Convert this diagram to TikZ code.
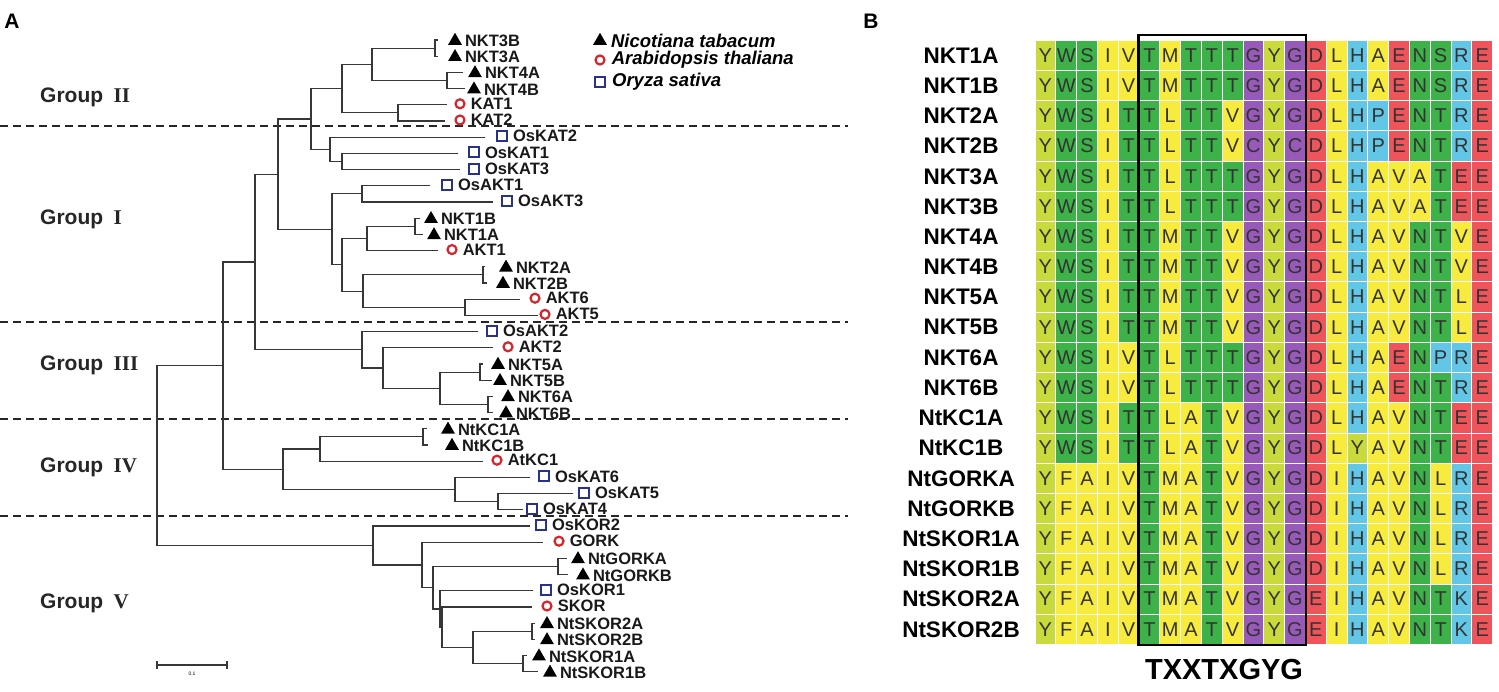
\documentclass[tikz,border=0pt]{standalone}
\usepackage{fontspec}
\setmainfont{Liberation Sans}
\newfontfamily\romfont{Liberation Serif}
\usetikzlibrary{positioning,calc,shapes.geometric}

\definecolor{cl}{RGB}{200,218,60}
\definecolor{cg}{RGB}{60,178,72}
\definecolor{cy}{RGB}{247,236,62}
\definecolor{cp}{RGB}{152,90,184}
\definecolor{cr}{RGB}{238,84,90}
\definecolor{cb}{RGB}{98,198,230}
\definecolor{treegray}{RGB}{55,55,55}
\definecolor{mkred}{RGB}{214,38,44}
\definecolor{mkblue}{RGB}{40,50,140}

\tikzset{
  branch/.style={treegray, line width=1.15pt},
  grpline/.style={black!85, line width=1.2pt, dash pattern=on 8pt off 5pt},
  mtri/.style={regular polygon, regular polygon sides=3, fill=black, inner sep=0pt, minimum size=16pt, yshift=-1.8pt},
  mcirc/.style={circle, draw=mkred, line width=2.2pt, inner sep=0pt, minimum size=9pt},
  msq/.style={rectangle, draw=mkblue, line width=1.9pt, inner sep=0pt, minimum size=10pt},
  leaflab/.style={font=\fontsize{16.5}{18}\selectfont\bfseries, text=black!90, inner sep=0pt},
  legtxt/.style={font=\fontsize{18.5}{20}\selectfont\bfseries\itshape, inner sep=0pt},
  grp/.style={font=\fontsize{21}{24}\selectfont\bfseries, text=black!85, inner sep=0pt, anchor=west},
  panel/.style={font=\fontsize{21}{22}\selectfont\bfseries, inner sep=0pt},
  scalelab/.style={font=\fontsize{5}{5}\selectfont, inner sep=0pt},
  seqlab/.style={font=\fontsize{22.5}{24}\selectfont\bfseries, inner sep=0pt},
  cell/.style={rectangle, draw=white, line width=1pt, minimum width=20.8pt, minimum height=30.2pt, inner sep=0pt, font=\fontsize{20}{20}\selectfont, text=black!80},
  motifbox/.style={line width=2.2pt, black},
  motif/.style={font=\fontsize{29}{30}\selectfont\bfseries, inner sep=0pt},
  res Y/.style={fill=cl},
  res W/.style={fill=cg}, res S/.style={fill=cg}, res T/.style={fill=cg}, res N/.style={fill=cg},
  res I/.style={fill=cy}, res V/.style={fill=cy}, res M/.style={fill=cy},
  res L/.style={fill=cy}, res A/.style={fill=cy}, res F/.style={fill=cy},
  res G/.style={fill=cp}, res C/.style={fill=cp},
  res D/.style={fill=cr}, res E/.style={fill=cr},
  res H/.style={fill=cb}, res P/.style={fill=cb}, res R/.style={fill=cb}, res K/.style={fill=cb}
}

% joins two children at the given x, half way between them
\newcommand{\clade}[4]{%
  \path ($(#3)!0.5!(#4)$) coordinate (mid);
  \coordinate (#1) at (#2,0 |- mid);
  \draw[branch] (#3) -| (#1) |- (#4);}

% one row of the alignment
\newcommand{\alnrow}[3]{%
  \node[seqlab] (r#1) at (961,{55.5+30.2*(#1-1)}) {#2};
  \foreach \aa [count=\k] in {#3} {
    \node[cell, res \aa] (c#1-\k) at ({1035+20.8*(\k-0.5)},{55.5+30.2*(#1-1)}) {\aa};
  }}

\begin{document}
\begin{tikzpicture}[x=1pt,y=-1pt]
\useasboundingbox (0,0) rectangle (1499,692);

\node[panel] (pA) at (12,21) {A};
\node[panel] (pB) at (871,21) {B};

% group borders
\foreach \yy in {126,322,419,516}
  \draw[grpline] (0,\yy) -- (848,\yy);

\node[grp] (g2) at (40,97) {Group\hspace{0.5em}{\romfont II}};
\node[grp] (g1) at (40,219) {Group\hspace{0.5em}{\romfont I}};
\node[grp] (g3) at (40,365) {Group\hspace{0.5em}{\romfont III}};
\node[grp] (g4) at (40,467) {Group\hspace{0.5em}{\romfont IV}};
\node[grp] (g5) at (40,603) {Group\hspace{0.5em}{\romfont V}};

% leaves: index / name / tip x / marker x / marker
\foreach \i/\lab/\tx/\mx/\mk in {
  0/NKT3B/438/455/mtri, 1/NKT3A/438/455/mtri, 2/NKT4A/463/475/mtri, 3/NKT4B/465/474/mtri,
  4/KAT1/447/460/mcirc, 5/KAT2/445/460/mcirc, 6/OsKAT2/485/502/msq, 7/OsKAT1/458/474/msq,
  8/OsKAT3/460/474/msq, 9/OsAKT1/430/447/msq, 10/OsAKT3/493/507/msq, 11/NKT1B/420/431/mtri,
  12/NKT1A/423/434/mtri, 13/AKT1/438/452/mcirc, 14/NKT2A/485/506/mtri, 15/NKT2B/487/503/mtri,
  16/AKT6/520/535/mcirc, 17/AKT5/538/545/mcirc, 18/OsAKT2/478/492/msq, 19/AKT2/493/508/mcirc,
  20/NKT5A/483/498/mtri, 21/NKT5B/492/500/mtri, 22/NKT6A/493/508/mtri, 23/NKT6B/493/506/mtri,
  24/NtKC1A/427/448/mtri, 25/NtKC1B/428/452/mtri, 26/AtKC1/483/497/mcirc, 27/OsKAT6/530/544/msq,
  28/OsKAT5/573/584/msq, 29/OsKAT4/523/532/msq, 30/OsKOR2/530/541/msq, 31/GORK/543/559/mcirc,
  32/NtGORKA/567/578/mtri, 33/NtGORKB/568/583/mtri, 34/OsKOR1/533/546/msq, 35/SKOR/532/547/mcirc,
  36/NtSKOR2A/535/547/mtri, 37/NtSKOR2B/535/547/mtri, 38/NtSKOR1A/527/539/mtri, 39/NtSKOR1B/538/550/mtri}{
  \coordinate (\lab) at (\tx,{40+16.2*\i});
  \node[\mk] (m\lab) at (\mx,{39+16.2*\i}) {};
  \node[leaflab, right=5pt of m\lab] (t\lab) {\lab};
}

% tree
\clade{nK3}{435}{NKT3B}{NKT3A}
\clade{nK4}{447}{NKT4A}{NKT4B}
\clade{nK34}{372}{nK3}{nK4}
\clade{nKAT}{398}{KAT1}{KAT2}
\clade{nII}{342}{nK34}{nKAT}
\clade{nOK13}{342}{OsKAT1}{OsKAT3}
\clade{nOK}{330}{OsKAT2}{nOK13}
\clade{nIIb}{311}{nII}{nOK}
\clade{nOA}{362}{OsAKT1}{OsAKT3}
\clade{nK1}{415}{NKT1B}{NKT1A}
\clade{nK1A}{367}{nK1}{AKT1}
\clade{nK2}{483}{NKT2A}{NKT2B}
\clade{nA56}{465}{AKT6}{AKT5}
\clade{nK2A}{363}{nK2}{nA56}
\clade{nAB}{342}{nK1A}{nK2A}
\clade{nAA}{332}{nOA}{nAB}
\clade{nI}{278}{nIIb}{nAA}
\clade{nK5}{480}{NKT5A}{NKT5B}
\clade{nK6}{488}{NKT6A}{NKT6B}
\clade{nK56}{440}{nK5}{nK6}
\clade{nA2}{383}{AKT2}{nK56}
\clade{nIII}{362}{OsAKT2}{nA2}
\clade{nIIIb}{255}{nI}{nIII}
\clade{nKC}{423}{NtKC1A}{NtKC1B}
\clade{nKC1}{320}{nKC}{AtKC1}
\clade{nOK45}{498}{OsKAT5}{OsKAT4}
\clade{nOK6}{455}{OsKAT6}{nOK45}
\clade{nIV}{283}{nKC1}{nOK6}
\clade{nIVb}{223}{nIIIb}{nIV}
\clade{nS2}{532}{NtSKOR2A}{NtSKOR2B}
\clade{nS1}{523}{NtSKOR1A}{NtSKOR1B}
\clade{nS12}{473}{nS2}{nS1}
\clade{nSK}{442}{SKOR}{nS12}
\clade{nOKR}{440}{OsKOR1}{nSK}
\clade{nGK}{558}{NtGORKA}{NtGORKB}
\clade{nGKO}{433}{nGK}{nOKR}
\clade{nGR}{422}{GORK}{nGKO}
\clade{nV}{373}{OsKOR2}{nGR}
\clade{nroot}{157}{nIVb}{nV}

% scale bar
\coordinate (sb1) at (157,665);
\coordinate (sb2) at (227,665);
\draw[branch] ([yshift=4pt]sb1) -- ([yshift=-4pt]sb1) (sb1) -- (sb2) ([yshift=4pt]sb2) -- ([yshift=-4pt]sb2);
\node[scalelab] (sbl) at (192,674) {0.1};

% legend
\node[mtri] (lgT) at (600,39) {};
\node[legtxt, right=6pt of lgT] (lgTt) {Nicotiana tabacum};
\node[mcirc] (lgC) at (600,60) {};
\node[legtxt, right=6pt of lgC] (lgCt) {Arabidopsis thaliana};
\node[msq] (lgS) at (600,82) {};
\node[legtxt, right=6pt of lgS] (lgSt) {Oryza sativa};

% alignment
\alnrow{1}{NKT1A}{Y,W,S,I,V,T,M,T,T,T,G,Y,G,D,L,H,A,E,N,S,R,E}
\alnrow{2}{NKT1B}{Y,W,S,I,V,T,M,T,T,T,G,Y,G,D,L,H,A,E,N,S,R,E}
\alnrow{3}{NKT2A}{Y,W,S,I,T,T,L,T,T,V,G,Y,G,D,L,H,P,E,N,T,R,E}
\alnrow{4}{NKT2B}{Y,W,S,I,T,T,L,T,T,V,C,Y,C,D,L,H,P,E,N,T,R,E}
\alnrow{5}{NKT3A}{Y,W,S,I,T,T,L,T,T,T,G,Y,G,D,L,H,A,V,A,T,E,E}
\alnrow{6}{NKT3B}{Y,W,S,I,T,T,L,T,T,T,G,Y,G,D,L,H,A,V,A,T,E,E}
\alnrow{7}{NKT4A}{Y,W,S,I,T,T,M,T,T,V,G,Y,G,D,L,H,A,V,N,T,V,E}
\alnrow{8}{NKT4B}{Y,W,S,I,T,T,M,T,T,V,G,Y,G,D,L,H,A,V,N,T,V,E}
\alnrow{9}{NKT5A}{Y,W,S,I,T,T,M,T,T,V,G,Y,G,D,L,H,A,V,N,T,L,E}
\alnrow{10}{NKT5B}{Y,W,S,I,T,T,M,T,T,V,G,Y,G,D,L,H,A,V,N,T,L,E}
\alnrow{11}{NKT6A}{Y,W,S,I,V,T,L,T,T,T,G,Y,G,D,L,H,A,E,N,P,R,E}
\alnrow{12}{NKT6B}{Y,W,S,I,V,T,L,T,T,T,G,Y,G,D,L,H,A,E,N,T,R,E}
\alnrow{13}{NtKC1A}{Y,W,S,I,T,T,L,A,T,V,G,Y,G,D,L,H,A,V,N,T,E,E}
\alnrow{14}{NtKC1B}{Y,W,S,I,T,T,L,A,T,V,G,Y,G,D,L,Y,A,V,N,T,E,E}
\alnrow{15}{NtGORKA}{Y,F,A,I,V,T,M,A,T,V,G,Y,G,D,I,H,A,V,N,L,R,E}
\alnrow{16}{NtGORKB}{Y,F,A,I,V,T,M,A,T,V,G,Y,G,D,I,H,A,V,N,L,R,E}
\alnrow{17}{NtSKOR1A}{Y,F,A,I,V,T,M,A,T,V,G,Y,G,D,I,H,A,V,N,L,R,E}
\alnrow{18}{NtSKOR1B}{Y,F,A,I,V,T,M,A,T,V,G,Y,G,D,I,H,A,V,N,L,R,E}
\alnrow{19}{NtSKOR2A}{Y,F,A,I,V,T,M,A,T,V,G,Y,G,E,I,H,A,V,N,T,K,E}
\alnrow{20}{NtSKOR2B}{Y,F,A,I,V,T,M,A,T,V,G,Y,G,E,I,H,A,V,N,T,K,E}

\draw[motifbox] ([yshift=5pt]c1-6.north west) rectangle (c20-13.south east);
\node[motif] (motif) at (1224,670) {TXXTXGYG};
\end{tikzpicture}
\end{document}
